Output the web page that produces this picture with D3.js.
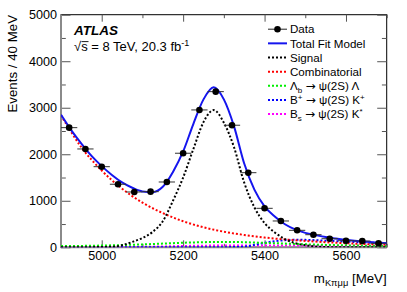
<!DOCTYPE html>
<html><head><meta charset="utf-8">
<script src="https://cdn.jsdelivr.net/npm/d3@7"></script>
<style>
html,body{margin:0;padding:0;background:#fff;}
svg{display:block;font-family:"Liberation Sans",Arial,Helvetica,sans-serif;}
text{white-space:pre;}
</style></head>
<body>
<svg id="c" width="407" height="292"></svg>
<script>
// ---- data ----
const binCenters = [4920,4960,5000,5040,5080,5120,5160,5200,5240,5280,5320,5360,5400,5440,5480,5520,5560,5600,5640,5680];
const dataCounts = [2572,2114,1733,1355,1189,1196,1404,2022,2953,3346,2624,1604,838,566,365,271,185,142,135,86];
const binHalfWidth = 20;

const totalX = [4900,4925,4950,4975,5000,5025,5050,5075,5100,5125,5150,5175,5200,5225,5250,5275,5300,5325,5350,5375,5400,5425,5450,5475,5500,5525,5550,5575,5600,5650,5700];
const totalY = [2850,2520,2230,1965,1745,1555,1395,1280,1200,1185,1300,1620,2060,2650,3180,3440,3180,2600,1800,1240,880,660,495,385,310,262,222,190,160,118,88];

const signalX = [4900,4950,5000,5025,5050,5075,5100,5125,5150,5175,5200,5225,5250,5275,5300,5325,5350,5375,5400,5425,5450,5475,5500,5525,5550,5600,5700];
const signalY = [0,2,6,12,45,115,200,330,560,1000,1500,2110,2690,2950,2680,2150,1390,860,520,320,175,90,45,18,6,1,0];

const combX = [4900,4950,5000,5050,5100,5150,5200,5250,5300,5350,5400,5450,5500,5550,5600,5650,5700];
const combY = [2840,2150,1650,1260,960,735,560,430,335,265,210,168,138,110,88,68,52];

const lambdaX = [4900,4950,5000,5050,5100,5150,5200,5250,5300,5350,5400,5450,5500,5550,5600,5650,5700];
const lambdaY = [28,30,38,48,62,80,98,110,115,110,95,80,65,52,42,35,30];

const bplusX = [4900,5000,5100,5200,5300,5340,5360,5380,5400,5425,5450,5475,5500,5550,5600,5650,5700];
const bplusY = [2,2,2,2,3,8,25,60,95,130,152,162,160,142,122,102,86];

const bsX = [4900,5000,5100,5150,5200,5250,5300,5400,5500,5600,5700];
const bsY = [3,5,10,18,28,35,38,40,38,35,32];

const yMajor = [0,1000,2000,3000,4000,5000];
const yMinor = [500,1500,2500,3500,4500];
const xMajor = [5000,5200,5400,5600];
const xMinor = [4900,5100,5300,5500,5700];

// ---- layout ----
const L = 61, R = 386.7, T = 14.7, B = 247.3;
const svg = d3.select("#c");
const x = d3.scaleLinear().domain([4900,5700]).range([L,R]);
const y = d3.scaleLinear().domain([0,5000]).range([B,T]);

svg.append("defs").append("clipPath").attr("id","clip")
  .append("rect").attr("x",L).attr("y",T).attr("width",R-L).attr("height",B-T);

// frame
svg.append("rect").attr("x",L).attr("y",T).attr("width",R-L).attr("height",B-T)
  .attr("fill","none").attr("stroke","#000").attr("stroke-width",1);

const tickCol = "#555";
function styleAxis(g){ g.select(".domain").remove(); g.selectAll("line").attr("stroke",tickCol); }

// y axis
svg.append("g").attr("transform",`translate(${L},0)`)
  .call(d3.axisLeft(y).tickValues(yMajor).tickSize(-9.5).tickPadding(4).tickFormat(d3.format("d")))
  .call(styleAxis).call(g=>g.selectAll("text").attr("font-size",12.6).attr("fill","#000").attr("font-family","Liberation Sans, Arial"));
svg.append("g").attr("transform",`translate(${L},0)`)
  .call(d3.axisLeft(y).tickValues(yMinor).tickSize(-4.8).tickFormat(""))
  .call(styleAxis);
svg.append("g").attr("transform",`translate(${R},0)`)
  .call(d3.axisRight(y).tickValues(yMajor).tickSize(-9.5).tickFormat(""))
  .call(styleAxis);
svg.append("g").attr("transform",`translate(${R},0)`)
  .call(d3.axisRight(y).tickValues(yMinor).tickSize(-4.8).tickFormat(""))
  .call(styleAxis);

// x axis
svg.append("g").attr("transform",`translate(0,${B})`)
  .call(d3.axisBottom(x).tickValues(xMajor).tickSize(-7).tickPadding(4).tickFormat(d3.format("d")))
  .call(styleAxis).call(g=>g.selectAll("text").attr("font-size",12.6).attr("fill","#000").attr("font-family","Liberation Sans, Arial"));
svg.append("g").attr("transform",`translate(0,${B})`)
  .call(d3.axisBottom(x).tickValues(xMinor).tickSize(-3.5).tickFormat(""))
  .call(styleAxis);
svg.append("g").attr("transform",`translate(0,${T})`)
  .call(d3.axisTop(x).tickValues(xMajor).tickSize(-7).tickFormat(""))
  .call(styleAxis);
svg.append("g").attr("transform",`translate(0,${T})`)
  .call(d3.axisTop(x).tickValues(xMinor).tickSize(-3.5).tickFormat(""))
  .call(styleAxis);

// gray thick left/bottom axis lines
svg.append("line").attr("x1",L).attr("x2",L).attr("y1",T).attr("y2",B+0.5).attr("stroke","#8a8a8a").attr("stroke-width",2);
svg.append("line").attr("x1",L-0.5).attr("x2",R).attr("y1",B).attr("y2",B).attr("stroke","#8a8a8a").attr("stroke-width",2);

// curves
const plot = svg.append("g").attr("clip-path","url(#clip)");
function curve(xs, ys, color, dashed){
  const pts = xs.map((v,i)=>[v,ys[i]]);
  const line = d3.line().x(d=>x(d[0])).y(d=>y(d[1])).curve(d3.curveMonotoneX);
  plot.append("path").attr("d",line(pts)).attr("fill","none")
    .attr("stroke",color).attr("stroke-width",2)
    .attr("stroke-dasharray",dashed?"2,2":null);
}
curve(bsX,bsY,"#ff00ff",true);
curve(bplusX,bplusY,"#0000ff",true);
curve(lambdaX,lambdaY,"#00ee00",true);
curve(combX,combY,"#ff0000",true);
curve(signalX,signalY,"#000000",true);
curve(totalX,totalY,"#1515ee",false);

// data points
const pts = svg.append("g");
binCenters.forEach((c,i)=>{
  const v = dataCounts[i], e = Math.sqrt(v);
  pts.append("line").attr("x1",x(c-binHalfWidth)).attr("x2",x(c+binHalfWidth))
    .attr("y1",y(v)).attr("y2",y(v)).attr("stroke","#333").attr("stroke-width",1);
  pts.append("line").attr("x1",x(c)).attr("x2",x(c))
    .attr("y1",y(v-e)).attr("y2",y(v+e)).attr("stroke","#333").attr("stroke-width",1);
  pts.append("circle").attr("cx",x(c)).attr("cy",y(v)).attr("r",3.3).attr("fill","#000");
});

// axis titles
svg.append("text").attr("transform","translate(16.5,15) rotate(-90)")
  .attr("text-anchor","end").attr("font-size",13.3).text("Events / 40 MeV");
const xt = svg.append("text").attr("x",R).attr("y",283).attr("text-anchor","end").attr("font-size",13.3);
xt.append("tspan").text("m");
xt.append("tspan").attr("font-size",9.3).attr("dy",3).text("Kπμμ");
xt.append("tspan").attr("dy",-3).text(" [MeV]");

// ATLAS label
svg.append("text").attr("x",74).attr("y",34.5).attr("font-size",13.5)
  .attr("font-weight","bold").attr("font-style","italic").text("ATLAS");
const en = svg.append("text").attr("x",74).attr("y",51).attr("font-size",13);
en.append("tspan").text("√s = 8 TeV, 20.3 fb");
en.append("tspan").attr("font-size",9).attr("dy",-5).text("-1");
svg.append("line").attr("x1",81.5).attr("x2",88.5).attr("y1",41.6).attr("y2",41.6).attr("stroke","#000").attr("stroke-width",0.9);

// legend
const legItems = [
  {type:"data", label:[["Data"]]},
  {type:"line", color:"#1515ee", dashed:false, label:[["Total Fit Model"]]},
  {type:"line", color:"#000000", dashed:true, label:[["Signal"]]},
  {type:"line", color:"#ff0000", dashed:true, label:[["Combinatorial"]]},
  {type:"line", color:"#00ee00", dashed:true, label:[["Λ"],["b","sub"],[" "],["→","arr"],[" ψ(2S) Λ"]]},
  {type:"line", color:"#0000ff", dashed:true, label:[["B"],["+","sup"],[" "],["→","arr"],[" ψ(2S) K"],["+","sup"]]},
  {type:"line", color:"#ff00ff", dashed:true, label:[["B"],["s","sub"],[" "],["→","arr"],[" ψ(2S) K"],["*","sup"]]}
];
const lx0 = 268, lx1 = 287, ltx = 290, ly0 = 29.2, ldy = 14.15;
legItems.forEach((it,i)=>{
  const yy = ly0 + i*ldy;
  if(it.type==="data"){
    svg.append("line").attr("x1",lx0).attr("x2",lx1).attr("y1",yy).attr("y2",yy).attr("stroke","#222").attr("stroke-width",1);
    svg.append("circle").attr("cx",(lx0+lx1)/2).attr("cy",yy).attr("r",3.3).attr("fill","#000");
  } else {
    svg.append("line").attr("x1",lx0).attr("x2",lx1).attr("y1",yy).attr("y2",yy)
      .attr("stroke",it.color).attr("stroke-width",2).attr("stroke-dasharray",it.dashed?"2,2":null);
  }
  const t = svg.append("text").attr("x",ltx).attr("y",yy+4.2).attr("font-size",11.6);
  let shift = 0;
  it.label.forEach(([s,kind])=>{
    const sp = t.append("tspan").text(s);
    let target = 0;
    if(kind==="sub"){ sp.attr("font-size",8); target = 2.5; }
    else if(kind==="sup"){ sp.attr("font-size",8); target = -4; }
    else if(kind==="arr"){ sp.attr("font-size",12).attr("font-family","DejaVu Sans"); target = 0; }
    sp.attr("dy", target - shift);
    shift = target;
  });
});
</script>
</body></html>
